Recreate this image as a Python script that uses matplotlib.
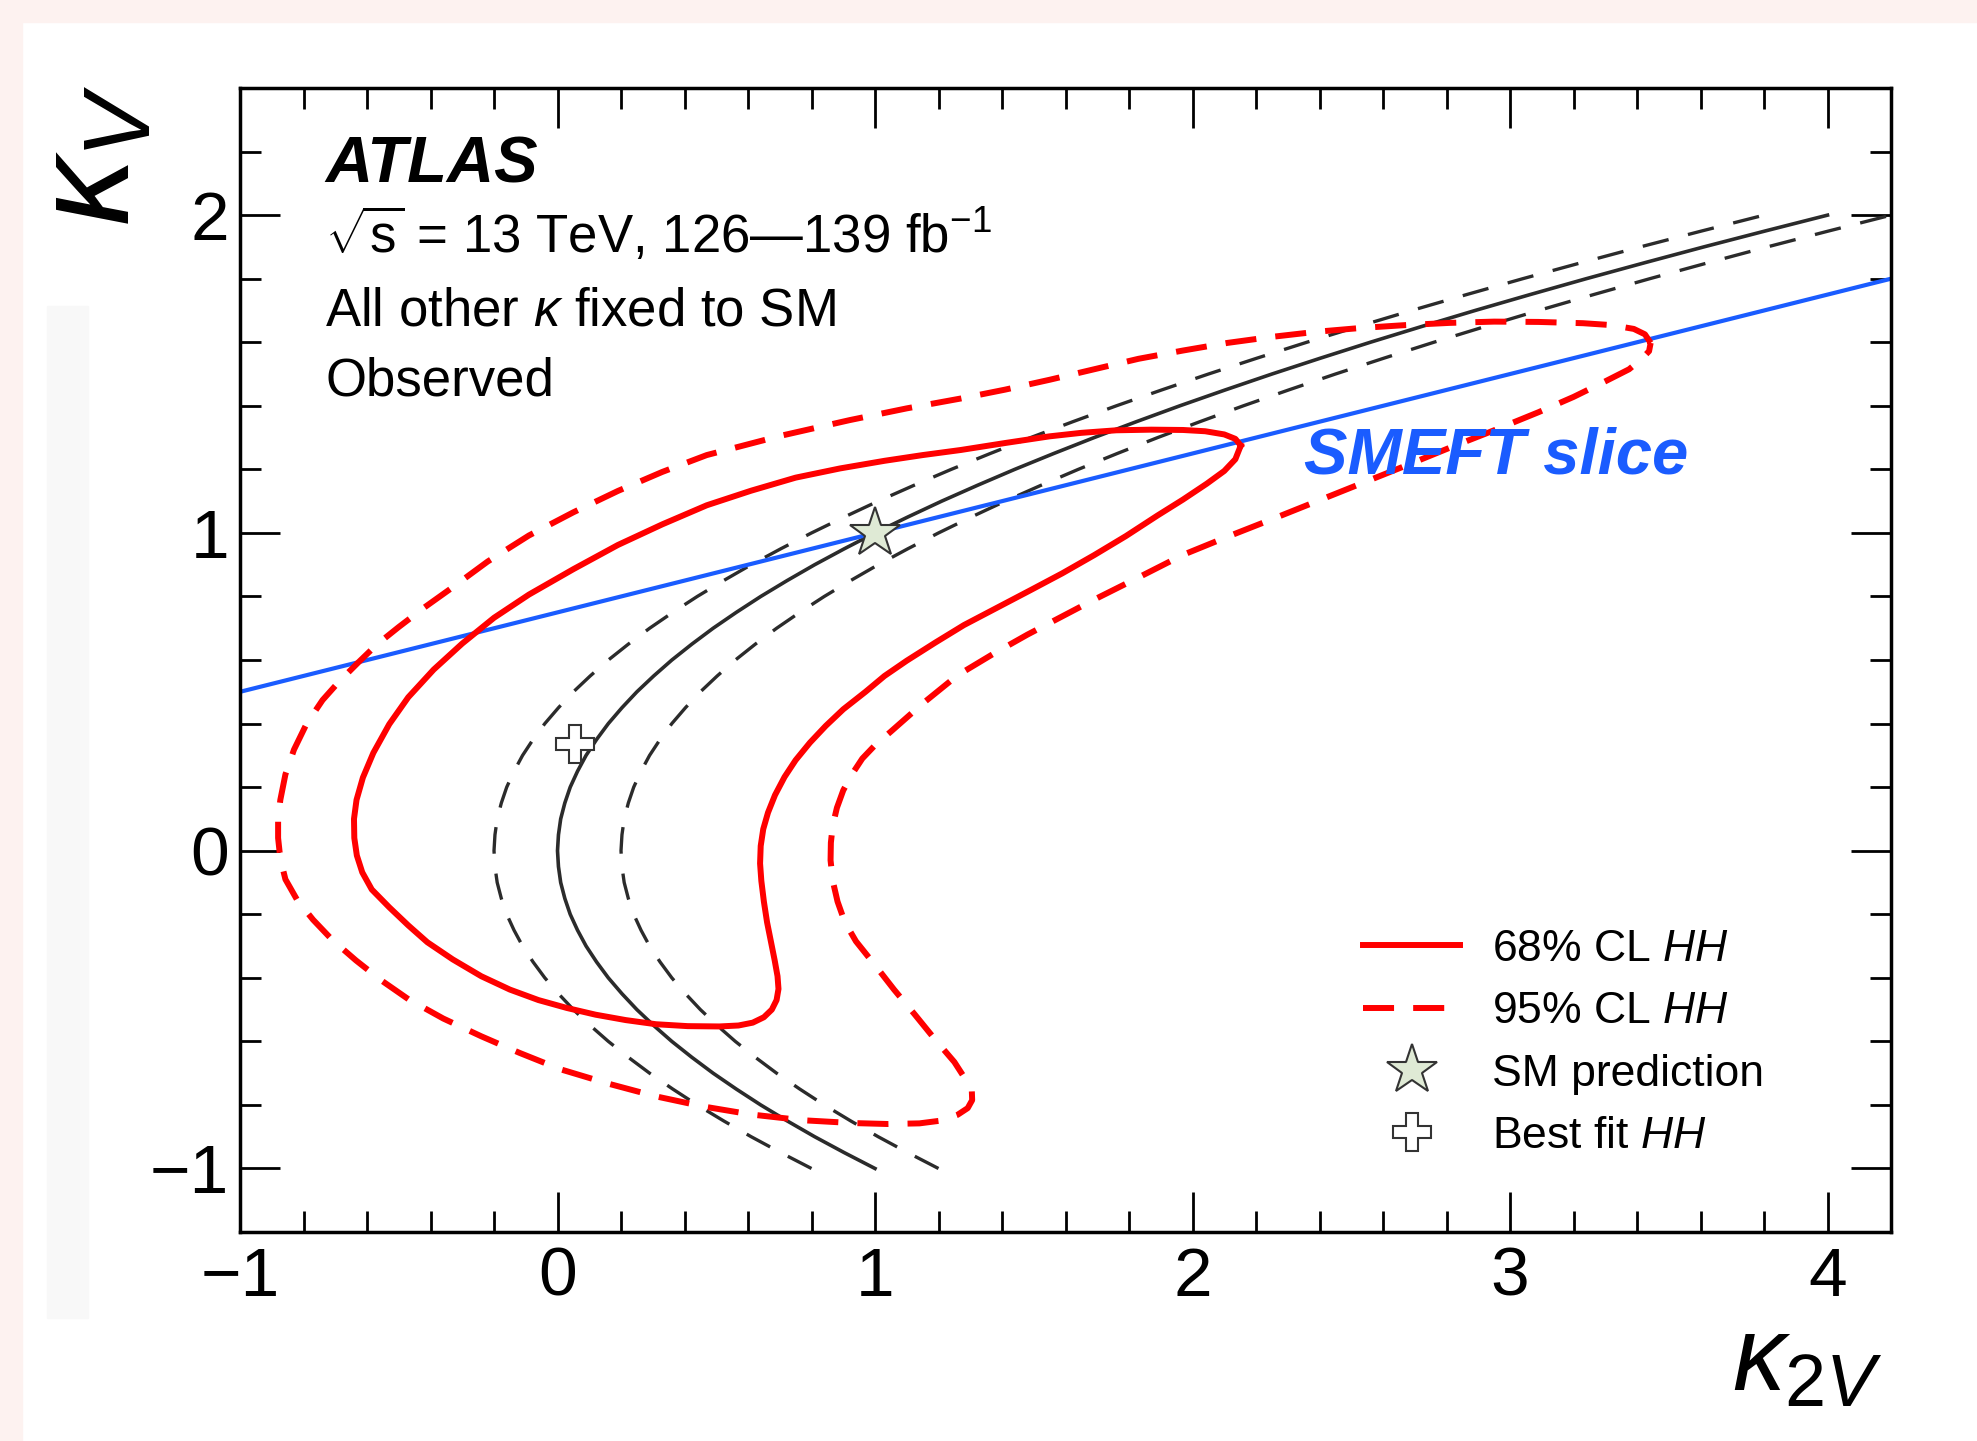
#!/usr/bin/env python3
"""ATLAS HH kappa_2V vs kappa_V likelihood contours with the SMEFT slice."""

import matplotlib

matplotlib.use("Agg")
import matplotlib.pyplot as plt
from matplotlib.patches import Rectangle
from matplotlib.ticker import MultipleLocator

# 68% CL HH contour (kappa_2V, kappa_V), traced from the right tip along the top edge
cl68_k2v = [2.152, 2.135, 2.10, 2.04, 1.97, 1.87, 1.76, 1.65, 1.55, 1.41, 1.27, 1.15, 1.03,
            0.89, 0.75, 0.61, 0.47, 0.33, 0.19, 0.05, -0.09, -0.20, -0.30, -0.39, -0.47,
            -0.53, -0.58, -0.613, -0.633, -0.641, -0.640, -0.632, -0.615, -0.585, -0.53,
            -0.47, -0.41, -0.33, -0.24, -0.15, -0.06, 0.03, 0.12, 0.215, 0.31, 0.41, 0.51,
            0.57, 0.615, 0.65, 0.675, 0.690, 0.696, 0.693, 0.684, 0.672, 0.660, 0.650,
            0.642, 0.638, 0.640, 0.648, 0.663, 0.685, 0.715, 0.750, 0.795, 0.845, 0.90,
            0.97, 1.03, 1.10, 1.19, 1.28, 1.385, 1.49, 1.59, 1.69, 1.79, 1.89, 1.97, 2.045,
            2.10, 2.135, 2.152]
cl68_kv = [1.275, 1.296, 1.310, 1.320, 1.324, 1.325, 1.323, 1.315, 1.304, 1.283, 1.261,
           1.245, 1.227, 1.203, 1.174, 1.133, 1.087, 1.027, 0.962, 0.886, 0.806, 0.733,
           0.652, 0.570, 0.483, 0.398, 0.308, 0.230, 0.160, 0.100, 0.040, -0.015, -0.068,
           -0.122, -0.178, -0.235, -0.288, -0.342, -0.395, -0.437, -0.470, -0.495, -0.516,
           -0.533, -0.546, -0.552, -0.553, -0.550, -0.541, -0.524, -0.500, -0.470, -0.435,
           -0.395, -0.345, -0.285, -0.225, -0.160, -0.095, -0.040, 0.015, 0.068, 0.120,
           0.175, 0.232, 0.285, 0.340, 0.393, 0.445, 0.500, 0.550, 0.598, 0.655, 0.710,
           0.765, 0.820, 0.873, 0.930, 0.990, 1.055, 1.105, 1.155, 1.195, 1.232, 1.275]

# 95% CL HH contour
cl95_k2v = [3.443, 3.425, 3.39, 3.32, 3.23, 3.09, 2.95, 2.81, 2.67, 2.53, 2.39, 2.25, 2.11,
            1.97, 1.83, 1.69, 1.55, 1.41, 1.27, 1.10, 0.92, 0.70, 0.47, 0.33, 0.19, 0.05,
            -0.09, -0.22, -0.34, -0.42, -0.50, -0.57, -0.63, -0.69, -0.74, -0.79, -0.83,
            -0.857, -0.873, -0.880, -0.880, -0.873, -0.857, -0.82, -0.77, -0.71, -0.635,
            -0.555, -0.47, -0.36, -0.24, -0.12, 0.01, 0.16, 0.31, 0.46, 0.61, 0.77, 0.93,
            1.04, 1.14, 1.21, 1.26, 1.292, 1.306, 1.305, 1.29, 1.25, 1.19, 1.125, 1.06, 1.00,
            0.94, 0.905, 0.882, 0.867, 0.860, 0.861, 0.867, 0.880, 0.900, 0.927, 0.960, 1.00,
            1.05, 1.15, 1.26, 1.37, 1.48, 1.585, 1.69, 1.83, 1.97, 2.11, 2.25, 2.39, 2.53,
            2.67, 2.81, 2.95, 3.09, 3.20, 3.30, 3.375, 3.415, 3.438, 3.443]
cl95_kv = [1.598, 1.625, 1.642, 1.654, 1.660, 1.664, 1.665, 1.661, 1.654, 1.645, 1.633,
           1.617, 1.598, 1.574, 1.548, 1.515, 1.482, 1.451, 1.423, 1.392, 1.355, 1.305,
           1.245, 1.192, 1.132, 1.065, 0.992, 0.910, 0.822, 0.765, 0.704, 0.648, 0.590,
           0.530, 0.474, 0.400, 0.318, 0.240, 0.160, 0.100, 0.040, -0.025, -0.090, -0.155,
           -0.217, -0.280, -0.345, -0.408, -0.467, -0.528, -0.584, -0.636, -0.688, -0.733,
           -0.773, -0.805, -0.830, -0.848, -0.857, -0.860, -0.858, -0.849, -0.831, -0.810,
           -0.785, -0.757, -0.727, -0.665, -0.595, -0.515, -0.437, -0.360, -0.285, -0.225,
           -0.160, -0.095, -0.030, 0.025, 0.080, 0.135, 0.190, 0.240, 0.290, 0.332, 0.375,
           0.463, 0.552, 0.618, 0.680, 0.735, 0.790, 0.860, 0.931, 0.988, 1.043, 1.099,
           1.155, 1.211, 1.268, 1.323, 1.380, 1.428, 1.477, 1.515, 1.548, 1.572, 1.598]

# black band: central curve and its two dashed edges, sampled in kappa_V
band_kv = [-1.00, -0.95, -0.90, -0.85, -0.80, -0.75, -0.70, -0.65, -0.60, -0.55, -0.50,
           -0.45, -0.40, -0.35, -0.30, -0.25, -0.20, -0.15, -0.10, -0.05, 0.00, 0.05, 0.10,
           0.15, 0.20, 0.25, 0.30, 0.35, 0.40, 0.45, 0.50, 0.55, 0.60, 0.65, 0.70, 0.75,
           0.80, 0.85, 0.90, 0.95, 1.00, 1.05, 1.10, 1.15, 1.20, 1.25, 1.30, 1.35, 1.40,
           1.45, 1.50, 1.55, 1.60, 1.65, 1.70, 1.75, 1.80, 1.85, 1.90, 1.95, 2.00]
band_mid = [1.000, 0.903, 0.810, 0.723, 0.640, 0.563, 0.490, 0.423, 0.360, 0.303, 0.250,
            0.203, 0.160, 0.123, 0.090, 0.063, 0.040, 0.023, 0.010, 0.003, 0.000, 0.003,
            0.010, 0.023, 0.040, 0.063, 0.090, 0.123, 0.160, 0.203, 0.250, 0.303, 0.360,
            0.423, 0.490, 0.563, 0.640, 0.723, 0.810, 0.903, 1.000, 1.103, 1.210, 1.323,
            1.440, 1.563, 1.690, 1.823, 1.960, 2.103, 2.250, 2.403, 2.560, 2.723, 2.890,
            3.063, 3.240, 3.423, 3.610, 3.803, 4.000]
band_lo = [0.800, 0.703, 0.610, 0.523, 0.440, 0.363, 0.290, 0.223, 0.160, 0.103, 0.050,
           0.003, -0.040, -0.077, -0.110, -0.137, -0.160, -0.177, -0.190, -0.197, -0.200,
           -0.197, -0.190, -0.177, -0.160, -0.137, -0.110, -0.077, -0.040, 0.003, 0.050,
           0.103, 0.160, 0.223, 0.290, 0.363, 0.440, 0.523, 0.610, 0.703, 0.800, 0.903,
           1.010, 1.123, 1.240, 1.363, 1.490, 1.623, 1.760, 1.903, 2.050, 2.203, 2.360,
           2.523, 2.690, 2.863, 3.040, 3.223, 3.410, 3.603, 3.800]
band_hi = [1.200, 1.103, 1.010, 0.923, 0.840, 0.763, 0.690, 0.623, 0.560, 0.503, 0.450,
           0.403, 0.360, 0.323, 0.290, 0.263, 0.240, 0.223, 0.210, 0.203, 0.200, 0.203,
           0.210, 0.223, 0.240, 0.263, 0.290, 0.323, 0.360, 0.403, 0.450, 0.503, 0.560,
           0.623, 0.690, 0.763, 0.840, 0.923, 1.010, 1.103, 1.200, 1.303, 1.410, 1.523,
           1.640, 1.763, 1.890, 2.023, 2.160, 2.303, 2.450, 2.603, 2.760, 2.923, 3.090,
           3.263, 3.440, 3.623, 3.810, 4.003, 4.200]

# SMEFT slice line end points
smeft_k2v = [-1.0, 4.2]
smeft_kv = [0.5, 1.8]

sm_point = (1.0, 1.0)
best_fit = (0.055, 0.335)

RED = "#ff0000"
BLUE = "#1a5cff"
DARK = "#2b2b2b"

plt.rcParams.update(
    {
        "font.family": ["Liberation Sans", "DejaVu Sans"],
        "mathtext.fontset": "custom",
        "mathtext.rm": "Liberation Sans",
        "mathtext.it": "Liberation Sans:italic",
        "mathtext.bf": "Liberation Sans:bold",
        "mathtext.sf": "Liberation Sans",
    }
)

fig = plt.figure(figsize=(19.77, 14.41), dpi=100)
fig.patches.append(Rectangle((0, 0), 22 / 1977, 1, transform=fig.transFigure,
                             color="#fdf2f0", zorder=-10))
fig.patches.append(Rectangle((0, 1 - 22 / 1441), 1, 22 / 1441, transform=fig.transFigure,
                             color="#fdf2f0", zorder=-10))
fig.patches.append(Rectangle((47 / 1977, 123 / 1441), 41 / 1977, 1012 / 1441,
                             transform=fig.transFigure, color="#f8f8f8", zorder=-10))

ax = fig.add_axes([0.1214, 0.1450, 0.8351, 0.7939])

ax.plot(band_lo, band_kv, color=DARK, lw=2.4, ls=(0, (8.0, 6.0)))
ax.plot(band_hi, band_kv, color=DARK, lw=2.4, ls=(0, (8.0, 6.0)))
ax.plot(band_mid, band_kv, color=DARK, lw=2.6)
ax.plot(smeft_k2v, smeft_kv, color=BLUE, lw=3.0)
h68, = ax.plot(cl68_k2v, cl68_kv, color=RED, lw=4.3, solid_joinstyle="round",
               label="68% CL $HH$")
h95, = ax.plot(cl95_k2v, cl95_kv, color=RED, lw=4.3, ls=(0, (5.2, 3.2)),
               label="95% CL $HH$")
hsm, = ax.plot(*sm_point, ls="none", marker="*", ms=38, mfc="#dfead5", mec="#333333",
               mew=1.5, label="SM prediction", zorder=5)
hbf, = ax.plot(*best_fit, ls="none", marker="P", ms=28, mfc="white", mec="#333333",
               mew=1.5, label="Best fit $HH$", zorder=5)

ax.set_xlim(-1, 4.2)
ax.set_ylim(-1.2, 2.4)
ax.xaxis.set_major_locator(MultipleLocator(1))
ax.xaxis.set_minor_locator(MultipleLocator(0.2))
ax.yaxis.set_major_locator(MultipleLocator(1))
ax.yaxis.set_minor_locator(MultipleLocator(0.2))
ax.tick_params(which="both", direction="in", top=True, right=True, width=2, labelsize=50)
ax.tick_params(which="major", length=29)
ax.tick_params(which="minor", length=15)
ax.tick_params(axis="x", pad=10)
ax.tick_params(axis="y", pad=8)
for spine in ax.spines.values():
    spine.set_linewidth(2.5)

ax.text(0.995, -0.138, r"$\kappa_{2V}$", transform=ax.transAxes, ha="right",
        va="baseline", fontsize=76)
ax.text(-0.088, 1.003, r"$\kappa_V$", transform=ax.transAxes, ha="center", va="top",
        rotation=90, fontsize=98)

ax.text(0.0515, 0.917, "ATLAS", transform=ax.transAxes, fontsize=47,
        fontweight="bold", fontstyle="italic")
ax.text(0.0515, 0.856, r"$\sqrt{\mathrm{s}}$ = 13 TeV, 126—139 fb$^{-1}$",
        transform=ax.transAxes, fontsize=38)
ax.text(0.0515, 0.792, r"All other $\kappa$ fixed to SM", transform=ax.transAxes,
        fontsize=38)
ax.text(0.0515, 0.7316, "Observed", transform=ax.transAxes, fontsize=38)

ax.text(2.352, 1.186, "SMEFT slice", color=BLUE, fontsize=47, fontweight="bold",
        fontstyle="italic")

ax.legend(handles=[h68, h95, hsm, hbf], loc="upper left", bbox_to_anchor=(0.680, 0.265),
          frameon=False, fontsize=32, handlelength=2.2, handletextpad=0.7,
          labelspacing=0.48, borderpad=0, borderaxespad=0, numpoints=1)

fig.savefig("out.png", dpi=100, facecolor="white")
